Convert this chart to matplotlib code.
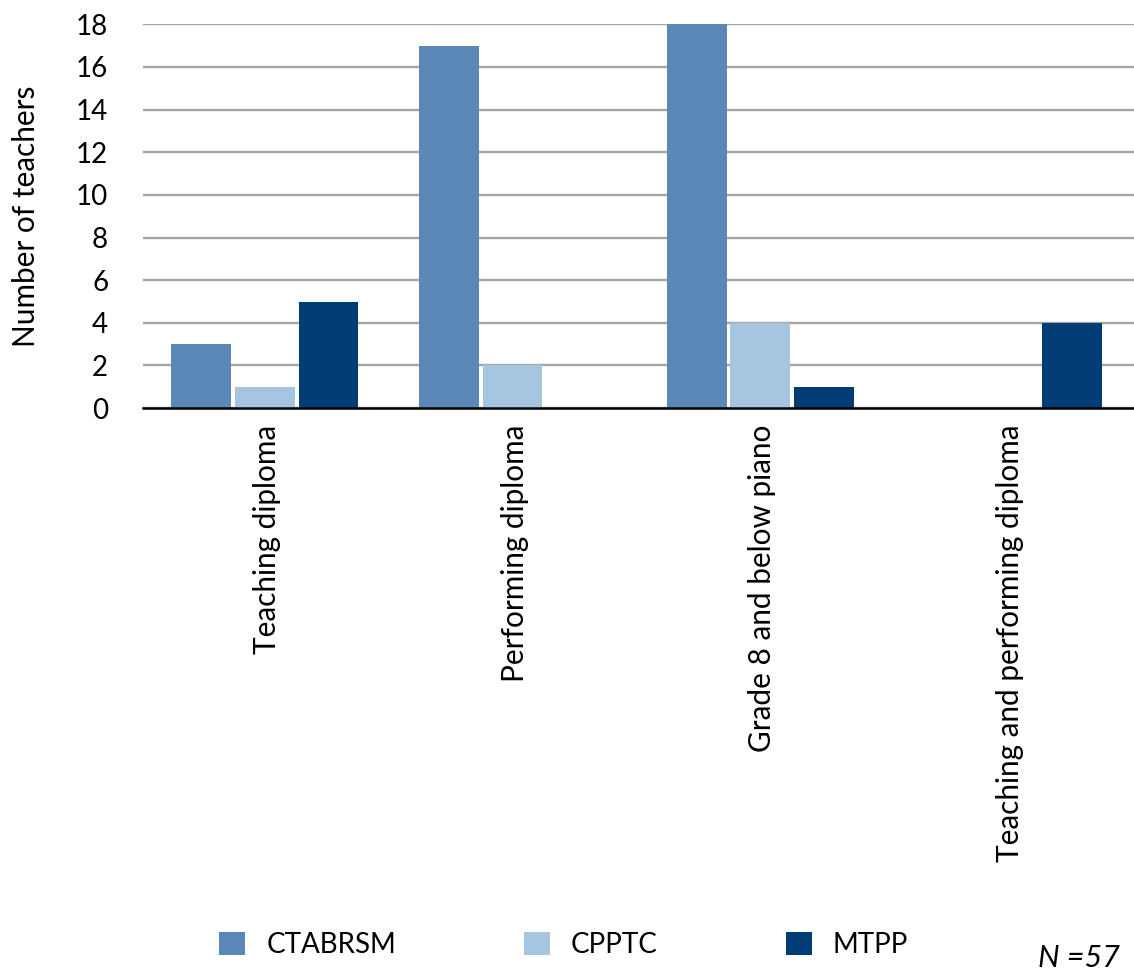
import matplotlib
matplotlib.use("Agg")
import matplotlib.pyplot as plt
import numpy as np
from matplotlib.patches import Patch

categories = ["Teaching diploma", "Performing diploma", "Grade 8 and below piano",
              "Teaching and performing diploma"]
series_names = ["CTABRSM", "CPPTC", "MTPP"]
ctabrsm = [3, 17, 18, 0]
cpptc = [1, 2, 4, 0]
mtpp = [5, 0, 1, 4]
y_ticks = [0, 2, 4, 6, 8, 10, 12, 14, 16, 18]

colors = ["#5B87B9", "#A5C5E0", "#023C75"]

plt.rcParams["font.family"] = ["Lato", "DejaVu Sans"]
fs = 20
fs_cat = 21.4

fig = plt.figure(figsize=(11.34, 9.74), dpi=100)
ax = fig.add_axes([0.126, 0.581, 0.874, 0.394])

x = np.arange(len(categories))
bar_w = 0.241
step = 0.257
for i, (vals, col, name) in enumerate(zip([ctabrsm, cpptc, mtpp], colors, series_names)):
    ax.bar(x + (i - 1) * step - 0.008, vals, width=bar_w, color=col, label=name, zorder=3)

ax.set_xlim(-0.5, len(categories) - 0.5)
ax.set_ylim(0, 18)
ax.set_yticks(y_ticks)
ax.set_yticklabels([str(t) for t in y_ticks], fontsize=fs)
ax.yaxis.grid(True, color="#A6A6A6", linewidth=1.7, zorder=0)
ax.set_axisbelow(True)
ax.tick_params(axis="y", length=0, pad=25)
ax.tick_params(axis="x", length=0, pad=12)
ax.set_xticks(x)
ax.set_xticklabels(categories, rotation=90, fontsize=fs_cat, va="top", ha="center")
for side in ["top", "right", "left"]:
    ax.spines[side].set_visible(False)
ax.spines["bottom"].set_color("black")
ax.spines["bottom"].set_linewidth(1.8)
ax.spines["bottom"].set_zorder(4)

ax.set_ylabel("Number of teachers", fontsize=fs_cat)
ax.yaxis.set_label_coords(-0.104, 0.5)

handles = [Patch(facecolor=c, edgecolor="none") for c in colors]
fig.legend(handles, series_names, loc="center", bbox_to_anchor=(0.497, 0.030),
           ncol=3, frameon=False, fontsize=fs, handlelength=0.95, handleheight=0.95,
           handletextpad=0.75, columnspacing=4.6)

fig.text(0.988, 0.002, "N =57", fontsize=22, style="italic", ha="right", va="bottom")

fig.savefig("out.png", dpi=100)
